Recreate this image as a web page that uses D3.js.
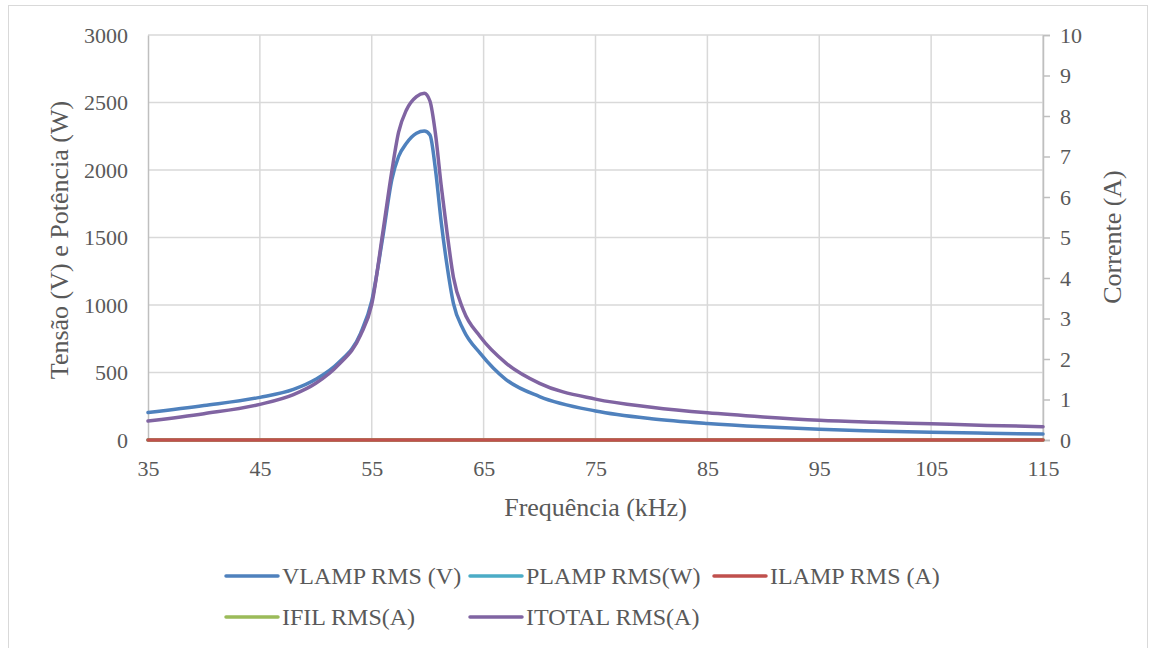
<!DOCTYPE html>
<html>
<head>
<meta charset="utf-8">
<script src="https://cdn.jsdelivr.net/npm/d3@7"></script>
<style>
  body { margin: 0; background: #fff; }
  svg text { font-family: "Liberation Serif", "Times New Roman", Times, serif; fill: #595959; }
</style>
</head>
<body>
<div id="chart"></div>
<script>
// frequency (kHz) at which values were read
var freq = [35, 40, 45, 48, 50, 52, 54, 55, 56, 56.8, 57.4, 58.1, 59, 59.7, 60.2, 60.7,
            61.2, 61.7, 62.3, 63.2, 64.7, 67, 70, 75, 80, 85, 90, 95, 100, 105, 110, 115];

// left axis series
var vlamp = [203, 255, 316, 375, 450, 570, 790, 1030, 1510, 1930, 2100, 2198, 2272, 2288, 2260, 2000,
             1620, 1309, 1012, 815, 642, 448, 322, 215, 158, 123, 98, 79, 67, 57, 50, 44];
var plamp = freq.map(function () { return 0; });

// right axis series
var ilamp = freq.map(function () { return 0; });
var ifil = freq.map(function () { return 0; });
var itotal = [0.47, 0.65, 0.88, 1.12, 1.40, 1.85, 2.59, 3.35, 5.15, 6.65, 7.6, 8.15, 8.48, 8.56, 8.37, 7.55,
              6.3, 5.19, 4.02, 3.2, 2.55, 1.9, 1.40, 1.01, 0.81, 0.67, 0.57, 0.49, 0.44, 0.40, 0.36, 0.33];

var xTicks = [35, 45, 55, 65, 75, 85, 95, 105, 115];
var yLeftTicks = [0, 500, 1000, 1500, 2000, 2500, 3000];
var yRightTicks = [0, 1, 2, 3, 4, 5, 6, 7, 8, 9, 10];

var legendNames = ["VLAMP RMS (V)", "PLAMP RMS(W)", "ILAMP RMS (A)", "IFIL RMS(A)", "ITOTAL RMS(A)"];
var colors = ["#4F81BD", "#4BACC6", "#C0504D", "#9BBB59", "#8064A2"];

var W = 1149, H = 648;
var plot = {left: 148, right: 1043, top: 35, bottom: 440};
var serif = "'Liberation Serif', 'Times New Roman', Times, serif";

var svg = d3.select("#chart").append("svg")
            .attr("width", W)
            .attr("height", H)
            .attr("font-family", serif);

svg.append("rect")
   .attr("x", 8.5).attr("y", 5.5)
   .attr("width", 1139).attr("height", 660)
   .attr("fill", "#fff")
   .attr("stroke", "#d9d9d9");

var x = d3.scaleLinear().domain([35, 115]).range([plot.left, plot.right]);
var yL = d3.scaleLinear().domain([0, 3000]).range([plot.bottom, plot.top]);
var yR = d3.scaleLinear().domain([0, 10]).range([plot.bottom, plot.top]);

/***** gridlines ******/
svg.append("g").selectAll("line")
   .data(yLeftTicks.slice(1))
   .enter().append("line")
   .attr("x1", plot.left).attr("x2", plot.right)
   .attr("y1", function (d) { return yL(d); })
   .attr("y2", function (d) { return yL(d); })
   .attr("stroke", "#d9d9d9").attr("stroke-width", 1.5);

svg.append("g").selectAll("line")
   .data(xTicks.slice(1))
   .enter().append("line")
   .attr("x1", function (d) { return x(d); })
   .attr("x2", function (d) { return x(d); })
   .attr("y1", plot.top).attr("y2", plot.bottom)
   .attr("stroke", "#d9d9d9").attr("stroke-width", 1.5);

/***** axes ******/
var gLeft = svg.append("g")
   .attr("transform", "translate(" + plot.left + ",0)")
   .call(d3.axisLeft(yL).tickValues(yLeftTicks).tickFormat(d3.format("d")).tickSize(0).tickPadding(20));

var gRight = svg.append("g")
   .attr("transform", "translate(" + plot.right + ",0)")
   .call(d3.axisRight(yR).tickValues(yRightTicks).tickFormat(d3.format("d")).tickSize(7).tickPadding(10));

var gBottom = svg.append("g")
   .attr("transform", "translate(0," + plot.bottom + ")")
   .call(d3.axisBottom(x).tickValues(xTicks).tickFormat(d3.format("d")).tickSize(0).tickPadding(20));

[gLeft, gRight, gBottom].forEach(function (g) {
  g.attr("font-family", serif).attr("font-size", 22);
  g.select(".domain").attr("stroke", "#bfbfbf").attr("stroke-width", 1.5);
  g.selectAll(".tick line").attr("stroke", "#bfbfbf").attr("stroke-width", 1.5);
  g.selectAll(".tick text").attr("fill", "#595959");
});

/***** axis titles ******/
svg.append("text")
   .attr("transform", "translate(68,240) rotate(-90)")
   .attr("text-anchor", "middle")
   .attr("font-size", 26)
   .text("Tensão (V) e Potência (W)");

svg.append("text")
   .attr("transform", "translate(1121,237) rotate(-90)")
   .attr("text-anchor", "middle")
   .attr("font-size", 26)
   .text("Corrente (A)");

svg.append("text")
   .attr("x", (plot.left + plot.right) / 2)
   .attr("y", 516)
   .attr("text-anchor", "middle")
   .attr("font-size", 26)
   .text("Frequência (kHz)");

/***** series ******/
var lineL = d3.line()
   .x(function (d, i) { return x(freq[i]); })
   .y(function (d) { return yL(d); })
   .curve(d3.curveMonotoneX);

var lineR = d3.line()
   .x(function (d, i) { return x(freq[i]); })
   .y(function (d) { return yR(d); })
   .curve(d3.curveMonotoneX);

var series = [
  {data: vlamp, line: lineL, color: colors[0]},
  {data: plamp, line: lineL, color: colors[1]},
  {data: ifil, line: lineR, color: colors[3]},
  {data: ilamp, line: lineR, color: colors[2]},
  {data: itotal, line: lineR, color: colors[4]}
];

svg.append("g").selectAll("path")
   .data(series)
   .enter().append("path")
   .attr("d", function (s) { return s.line(s.data); })
   .attr("fill", "none")
   .attr("stroke", function (s) { return s.color; })
   .attr("stroke-width", 3.5)
   .attr("stroke-linecap", "round")
   .attr("stroke-linejoin", "round");

/***** legend ******/
var legendPos = [[226, 576], [470, 576], [714, 576], [226, 617], [470, 617]];

var legend = svg.append("g").selectAll("g")
   .data(legendNames)
   .enter().append("g")
   .attr("transform", function (d, i) { return "translate(" + legendPos[i][0] + "," + legendPos[i][1] + ")"; });

legend.append("line")
   .attr("x1", 0).attr("x2", 52)
   .attr("y1", 0).attr("y2", 0)
   .attr("stroke", function (d, i) { return colors[i]; })
   .attr("stroke-width", 3.5)
   .attr("stroke-linecap", "round");

legend.append("text")
   .attr("x", 56)
   .attr("y", 8)
   .attr("font-size", 24)
   .text(function (d) { return d; });
</script>
</body>
</html>
